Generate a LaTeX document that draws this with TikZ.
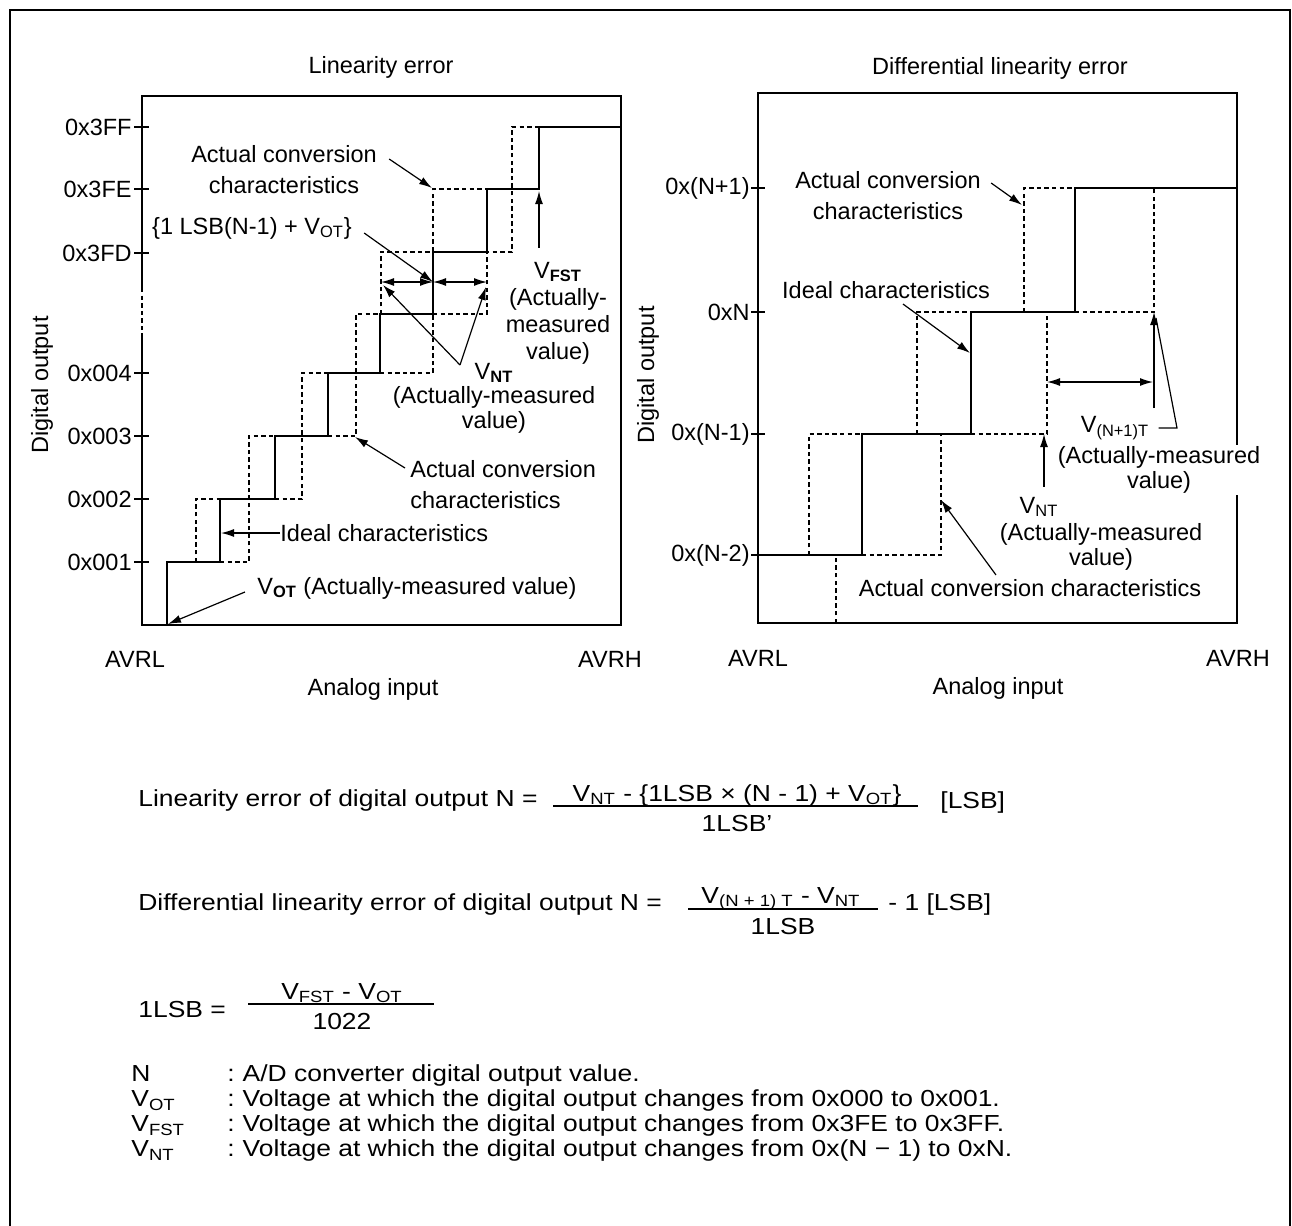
\documentclass[tikz,border=0pt]{standalone}
\usepackage{fontspec}
\setmainfont{Liberation Sans}
\newfontfamily\eqfont{Liberation Sans}[FakeStretch=1.14]
\usetikzlibrary{arrows.meta}

\begin{document}
\begin{tikzpicture}[x=0.5pt, y=-0.5pt,
    >={Latex[length=6.5pt, width=4pt]},
    lbl/.style={font=\fontsize{11.75}{15.5}\selectfont, inner sep=0pt, align=center},
    mid/.style={font=\fontsize{11.75}{13.5}\selectfont},
    tight/.style={font=\fontsize{11.75}{12.3}\selectfont},
    big/.style={font=\eqfont\fontsize{11.6}{12.5}\selectfont, inner sep=0pt},
    ideal/.style={line width=1.4pt},
    actual/.style={line width=0.6pt, dash pattern=on 2.2pt off 1.6pt},
    axis/.style={line width=0.75pt},
    lead/.style={->, line width=0.6pt},
    fbar/.style={line width=0.8pt}]

    \useasboundingbox (0,0) rectangle (1292,1226);
    \draw[line width=1pt] (10,1226) -- (10,10) -- (1290,10) -- (1290,1226);

    \node[lbl] (ltitle) at (381,67) {Linearity error};
    \draw[axis] (142,288) -- (142,96) -- (621,96) -- (621,625) -- (142,625) -- (142,333);
    \draw[actual] (142,288) -- (142,333);
    \foreach \y/\ytxt [count=\i] in {127/0x3FF,189/0x3FE,253/0x3FD,373/0x004,436/0x003,499/0x002,562/0x001} {
        \draw[axis] (134,\y) -- (149,\y);
        \node[lbl, anchor=east] (ly\i) at (132,\y) {\ytxt};
    }
    \draw[ideal] (167,625) |- (220,562) |- (275,499) |- (328,436) |- (380,373) |- (433,314) |- (487,252) |- (539,189) |- (621,127);
    \draw[actual] (196,562) |- (220,499);
    \draw[actual] (220,562) -| (249,436) -- (275,436);
    \draw[actual] (275,499) -| (302,373) -- (328,373);
    \draw[actual] (328,436) -| (356,314) -- (380,314);
    \draw[actual] (380,373) -| (433,189) -- (487,189);
    \draw[actual] (381,314) |- (433,252);
    \draw[actual] (433,314) -| (487,252) -| (512,127) -- (539,127);

    \coordinate (nl) at (381,282);
    \coordinate (nm) at (433,282);
    \coordinate (nr) at (487,282);
    \draw[<->, line width=0.6pt] (nl) -- (nm);
    \draw[<->, line width=0.6pt] (nm) -- (nr);

    \node[lbl] (lact1) at (284,170) {Actual conversion\\characteristics};
    \coordinate (lact1p) at (432,188);
    \draw[lead] ([shift={(6pt,5.5pt)}]lact1.east) -- (lact1p);
    \node[lbl] (llsb) at (252,228) {\{1 LSB(N-1) + V\textsubscript{OT}\}};
    \draw[lead] ([shift={(6pt,-2.5pt)}]llsb.east) -- (nm);
    \node[lbl, mid] (lvfst) at (558,313) {V\textsubscript{\textbf{FST}}\\(Actually-\\measured\\value)};
    \coordinate (lfstp) at (539,191);
    \draw[lead] ([shift={(-9.5pt,7pt)}]lvfst.north) -- (lfstp);
    \node[lbl, tight] (lvnt) at (494,398) {V\textsubscript{\textbf{NT}}\\(Actually-measured\\value)};
    \coordinate (lvntv) at (460,365);
    \coordinate (lvntl) at (383,285);
    \coordinate (lvntr) at (486,287);
    \draw[lead] (lvntv) -- (lvntl);
    \draw[lead] (lvntv) -- (lvntr);
    \node[lbl, anchor=west, align=left] (lact2) at (410,485) {Actual conversion\\characteristics};
    \coordinate (lact2p) at (355,437);
    \draw[lead] ([shift={(-2.5pt,8.5pt)}]lact2.west) -- (lact2p);
    \node[lbl, anchor=west] (lideal) at (280,533) {Ideal characteristics};
    \coordinate (lidealp) at (221,533);
    \draw[lead] (lideal.west) -- (lidealp);
    \node[lbl, anchor=west] (lvot) at (257,588) {V\textsubscript{\textbf{OT}} (Actually-measured value)};
    \coordinate (lvotp) at (168,624);
    \draw[lead] ([shift={(-6pt,-2pt)}]lvot.west) -- (lvotp);

    \node[lbl, rotate=90] (ldig) at (42,385) {Digital output};
    \node[lbl] (lavrl) at (135,659) {AVRL};
    \node[lbl] (lavrh) at (610,659) {AVRH};
    \node[lbl] (lana) at (373,689) {Analog input};

    \node[lbl] (rtitle) at (1000,68) {Differential linearity error};
    \draw[axis] (758,93) rectangle (1237,623);
    \foreach \y/\ytxt [count=\i] in {188/0x(N+1),312/0xN,434/0x(N-1),555/0x(N-2)} {
        \draw[axis] (751,\y) -- (765,\y);
        \node[lbl, anchor=east] (ry\i) at (750,\y) {\ytxt};
    }
    \draw[ideal] (758,555) -| (862,434) -| (971,312) -| (1075,188) -- (1237,188);
    \draw[actual] (809,555) |- (862,434);
    \draw[actual] (836,623) -- (836,555);
    \draw[actual] (862,555) -| (941,434);
    \draw[actual] (917,434) |- (971,312);
    \draw[actual] (971,434) -| (1047,312);
    \draw[actual] (1024,312) |- (1075,188);
    \draw[actual] (1075,312) -| (1154,188);

    \coordinate (rdl) at (1047,382);
    \coordinate (rdr) at (1153,382);
    \draw[<->, line width=0.6pt] (rdl) -- (rdr);
    \coordinate (rvb) at (1154,408);
    \coordinate (rvt) at (1154,312);
    \draw[lead] (rvb) -- (rvt);
    \node[lbl] (rvn1) at (1115,428) {V\textsubscript{(N+1)T}};
    \coordinate (rvtip) at (1156,318);
    \draw[line width=0.6pt] ([xshift=4.5pt]rvn1.east) -- (1177,428) -- (rvtip);
    \node[lbl, tight, fill=white, inner sep=1pt] (rvn1m) at (1159,470) {(Actually-measured\\value)};

    \node[lbl] (rvnt) at (1039,507) {V\textsubscript{NT}};
    \node[lbl, tight] (rvntm) at (1101,547) {(Actually-measured\\value)};
    \coordinate (rntp) at (1044,434);
    \draw[lead] ([shift={(2.5pt,5pt)}]rvnt.north) -- (rntp);

    \node[lbl] (ract1) at (888,196) {Actual conversion\\characteristics};
    \coordinate (ract1p) at (1022,205);
    \draw[lead] ([shift={(5pt,6.5pt)}]ract1.east) -- (ract1p);
    \node[lbl] (rideal) at (886,290) {Ideal characteristics};
    \coordinate (ridealp) at (970,353);
    \draw[lead] ([shift={(8.5pt,-2.5pt)}]rideal.south) -- (ridealp);
    \node[lbl] (ract2) at (1030,588) {Actual conversion characteristics};
    \coordinate (ract2p) at (941,500);
    \draw[lead] ([shift={(-17pt,2pt)}]ract2.north) -- (ract2p);

    \node[lbl, rotate=90] (rdig) at (648,375) {Digital output};
    \node[lbl] (ravrl) at (758,658) {AVRL};
    \node[lbl] (ravrh) at (1238,658) {AVRH};
    \node[lbl] (rana) at (998,688) {Analog input};

    \node[big, anchor=base west] (f1t) at (138,806) {Linearity error of digital output N =};
    \node[big, anchor=base] (f1n) at (737,801) {V\textsubscript{NT} - \{1LSB × (N - 1) + V\textsubscript{OT}\}};
    \coordinate (f1a) at (553,806);
    \coordinate (f1b) at (918,806);
    \draw[fbar] (f1a) -- (f1b);
    \node[big, anchor=base] (f1d) at (737,831) {1LSB’};
    \node[big, anchor=base west] (f1u) at (940,808) {[LSB]};

    \node[big, anchor=base west] (f2t) at (138,910) {Differential linearity error of digital output N =};
    \node[big, anchor=base] (f2n) at (781,903) {V\textsubscript{(N + 1) T} - V\textsubscript{NT}};
    \coordinate (f2a) at (688,909);
    \coordinate (f2b) at (878,909);
    \draw[fbar] (f2a) -- (f2b);
    \node[big, anchor=base] (f2d) at (783,934) {1LSB};
    \node[big, anchor=base west] (f2u) at (888,910) {- 1 [LSB]};

    \node[big, anchor=base west] (f3t) at (138,1017) {1LSB =};
    \node[big, anchor=base] (f3n) at (342,999) {V\textsubscript{FST} - V\textsubscript{OT}};
    \coordinate (f3a) at (248,1004);
    \coordinate (f3b) at (434,1004);
    \draw[fbar] (f3a) -- (f3b);
    \node[big, anchor=base] (f3d) at (342,1029) {1022};

    \node[big, anchor=north west] (defs) at (131,1064) {\begin{tabular}{@{}p{48pt}@{}l@{\hspace{4pt}}l@{}}
        N & : & A/D converter digital output value.\\
        V\textsubscript{OT} & : & Voltage at which the digital output changes from 0x000 to 0x001.\\
        V\textsubscript{FST} & : & Voltage at which the digital output changes from 0x3FE to 0x3FF.\\
        V\textsubscript{NT} & : & Voltage at which the digital output changes from 0x(N − 1) to 0xN.
    \end{tabular}};
\end{tikzpicture}
\end{document}
